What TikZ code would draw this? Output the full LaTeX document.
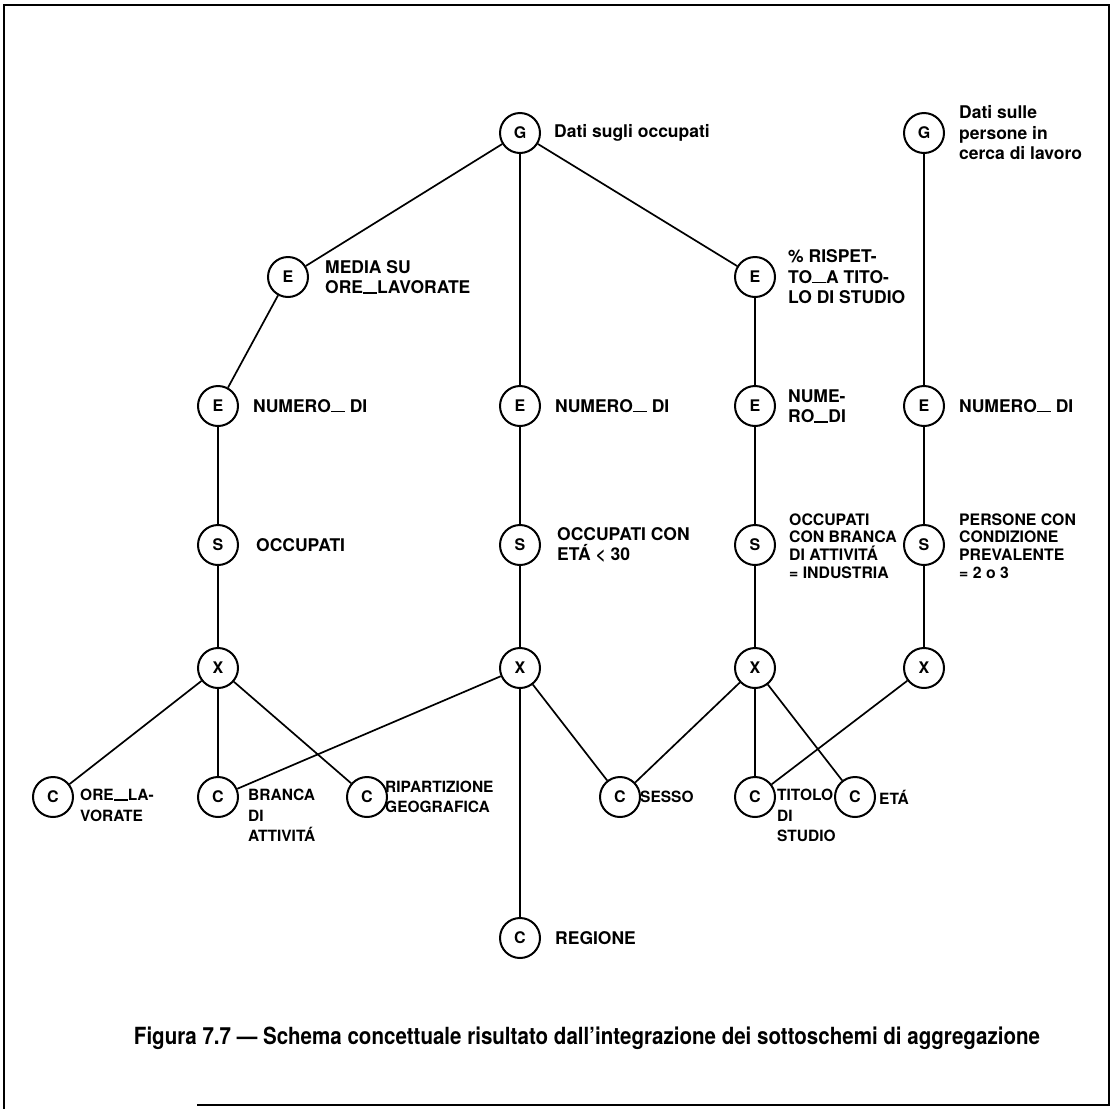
\documentclass[tikz,border=0pt]{standalone}
\usepackage{fontspec}
\setmainfont{TeX Gyre Heros}
\newcommand\lowbar{\rule[0pt]{14pt}{1.8pt}}
\begin{document}
\begin{tikzpicture}[x=1pt,y=-1pt,
  ent/.style={circle,draw,line width=2pt,minimum size=40pt,inner sep=0pt,
    font=\fontsize{16}{16}\selectfont\bfseries},
  lab/.style={anchor=west,align=left,inner sep=0pt,
    font=\fontsize{17.5}{20.5}\selectfont\bfseries},
  clab/.style={lab,font=\fontsize{15.5}{20.5}\selectfont\bfseries},
  clabtop/.style={clab,anchor=north west},
  slab/.style={lab,font=\fontsize{15.8}{17.7}\selectfont\bfseries},
  link/.style={line width=1.7pt}]
\useasboundingbox (0,0) rectangle (1114,1109);

% frame
\draw[line width=2.2pt] (197,1105) -- (1109,1105) -- (1109,5) -- (4,5) -- (4,1109);

% generalisation roots
\node[ent] (g1) at (520,133) {G};
\node[ent] (g2) at (924,133) {G};
\node[lab] (lg1) at (554,133) {Dati sugli occupati};
\node[lab] (lg2) at (959,133) {Dati sulle\\persone in\\cerca di lavoro};

% upper E nodes
\node[ent] (em) at (288,277) {E};
\node[ent] (er) at (755,277) {E};
\node[lab] (lem) at (325,277) {MEDIA SU\\ORE\lowbar LAVORATE};
\node[lab] (ler) at (788,277) {\% RISPET-\\TO\lowbar A TITO-\\LO DI STUDIO};

% E row
\node[ent] (e1) at (218,406) {E};
\node[ent] (e2) at (520,406) {E};
\node[ent] (e3) at (755,406) {E};
\node[ent] (e4) at (924,406) {E};
\node[lab] (le1) at (253,406) {NUMERO\lowbar{} DI};
\node[lab] (le2) at (555,406) {NUMERO\lowbar{} DI};
\node[lab] (le3) at (788,406) {NUME-\\RO\lowbar DI};
\node[lab] (le4) at (959,406) {NUMERO\lowbar{} DI};

% S row
\node[ent] (s1) at (218,545) {S};
\node[ent] (s2) at (520,545) {S};
\node[ent] (s3) at (755,545) {S};
\node[ent] (s4) at (924,545) {S};
\node[lab] (ls1) at (256,545) {OCCUPATI};
\node[lab] (ls2) at (557,545) {OCCUPATI CON\\ETÁ < 30};
\node[slab] (ls3) at (789,546) {OCCUPATI\\CON BRANCA\\DI ATTIVITÁ\\= INDUSTRIA};
\node[slab] (ls4) at (959,546) {PERSONE CON\\CONDIZIONE\\PREVALENTE\\= 2 o 3};

% X row
\node[ent] (x1) at (218,668) {X};
\node[ent] (x2) at (520,668) {X};
\node[ent] (x3) at (755,668) {X};
\node[ent] (x4) at (924,668) {X};

% C row
\node[ent] (c1) at (53,797) {C};
\node[ent] (c2) at (218,797) {C};
\node[ent] (c3) at (367,797) {C};
\node[ent] (c4) at (620,797) {C};
\node[ent] (c5) at (755,797) {C};
\node[ent] (c6) at (855,797) {C};
\node[ent] (c7) at (520,938) {C};
\node[clabtop] (lc1) at (80,789) {ORE\lowbar LA-\\VORATE};
\node[clabtop] (lc2) at (248,789) {BRANCA\\DI\\ATTIVITÁ};
\node[clab] (lc3) at (385,797) {RIPARTIZIONE\\GEOGRAFICA};
\node[clab] (lc4) at (640,797) {SESSO};
\node[clabtop] (lc5) at (777,789) {TITOLO\\DI\\STUDIO};
\node[clab] (lc6) at (879,797) {ETÁ};
\node[lab] (lc7) at (555,938) {REGIONE};

% connectors
\draw[link] (g1) -- (em);
\draw[link] (g1) -- (e2);
\draw[link] (g1) -- (er);
\draw[link] (g2) -- (e4);
\draw[link] (em) -- (e1);
\draw[link] (er) -- (e3);
\foreach \i in {1,2,3,4} {
  \draw[link] (e\i) -- (s\i);
  \draw[link] (s\i) -- (x\i);
}
\draw[link] (x1) -- (c1);
\draw[link] (x1) -- (c2);
\draw[link] (x1) -- (c3);
\draw[link] (x2) -- (c2);
\draw[link] (x2) -- (c7);
\draw[link] (x2) -- (c4);
\draw[link] (x3) -- (c4);
\draw[link] (x3) -- (c5);
\draw[link] (x3) -- (c6);
\draw[link] (x4) -- (c5);

% caption
\node[inner sep=0pt,font=\bfseries] (cap) at (587,1038)
  {\resizebox{906pt}{!}{\scalebox{1}[1.15]{Figura 7.7 — Schema concettuale risultato dall'integrazione dei sottoschemi di aggregazione}}};
\end{tikzpicture}
\end{document}
